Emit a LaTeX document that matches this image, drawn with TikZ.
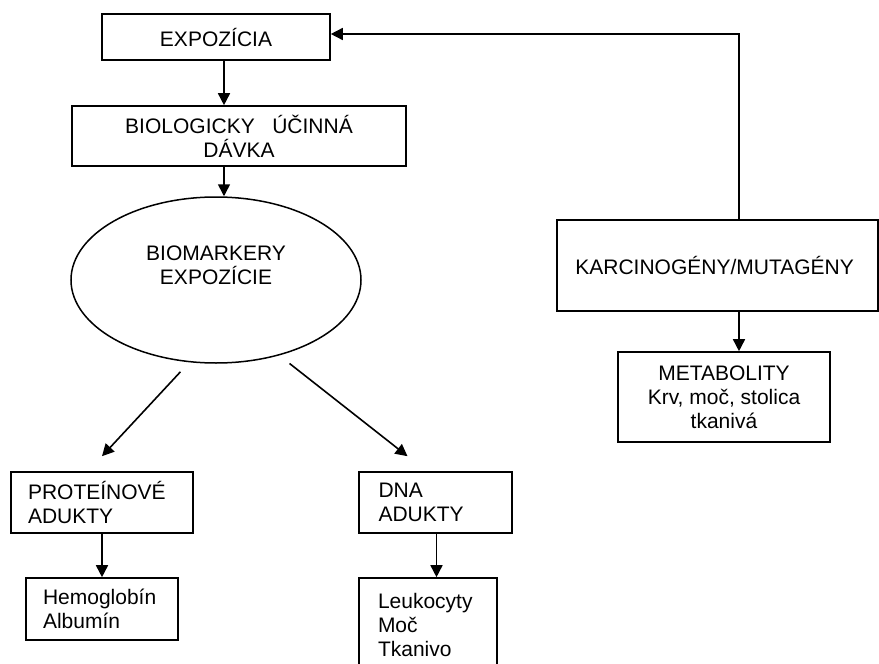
\documentclass[tikz,border=0pt]{standalone}
\usepackage{fontspec}
\setmainfont{Liberation Sans}
\usetikzlibrary{arrows.meta,shapes.geometric}

\begin{document}
\begin{tikzpicture}[
        x=0.5pt, y=-0.5pt,
        font=\fontsize{10.5}{12}\selectfont,
        box/.style={
            rectangle, draw=black, line width=0.8pt,
            inner sep=0pt, align=center
        },
        leftbox/.style={
            box, align=left, inner ysep=0pt
        },
        oval/.style={
            ellipse, draw=black, line width=0.75pt,
            minimum width=145pt, minimum height=83pt,
            inner sep=0pt, align=center
        },
        arrow/.style={-{Triangle[length=6pt,width=6pt]}, line width=0.8pt}
    ]

        \clip[use as bounding box] (0,0) rectangle (879,664);

        % Uzly
        \node[box, minimum width=114pt, minimum height=23pt] (expo) at (216,37) {EXPOZÍCIA};

        \node[box, minimum width=167pt, minimum height=30pt] (bio) at (239,136) {
            BIOLOGICKY~~~ÚČINNÁ\\
            DÁVKA
        };

        \node[oval] (bme) at (216,280) {
            BIOMARKERY\\
            EXPOZÍCIE\\[3pt]
        };

        \node[leftbox, text width=74pt, inner xsep=8.5pt, minimum height=30.5pt] (prot) at (102,502.5) {
            PROTEÍNOVÉ\\
            ADUKTY
        };

        \node[leftbox, text width=59pt, inner xsep=8.5pt, minimum height=31pt] (hemo) at (102,609) {
            Hemoglobín\\
            Albumín
        };

        \node[leftbox, text width=57pt, inner xsep=9.75pt, minimum height=30.5pt] (dna) at (435.5,502.5) {
            DNA\\
            ADUKTY
        };

        \node[leftbox, text width=50pt, inner xsep=9.5pt, minimum height=47pt] (leuk) at (428,625) {
            Leukocyty\\
            Moč\\
            Tkanivo
        };

        \node[box, minimum width=160.5pt, minimum height=45.5pt] (karc) at (717.5,265.5) {
            KARCINOGÉNY/MUTAGÉNY
        };

        \node[box, minimum width=106pt, minimum height=45pt] (metab) at (724,397) {
            METABOLITY\\
            Krv, moč, stolica\\
            tkanivá
        };

        % Šípky
        \draw[arrow] ([xshift=4pt]expo.south) -- ([xshift=4pt]expo.south |- bio.north);
        \draw[arrow] ([xshift=-7.5pt]bio.south) -- ([xshift=-7.5pt]bio.south |- bme.north);

        \coordinate (protin) at ([yshift=7.5pt]prot.north);
        \coordinate (dnain) at ([xshift=-14pt,yshift=7.5pt]dna.north);
        \draw[arrow, shorten <=6.5pt] (bme.252) -- (protin);
        \draw[arrow, shorten <=6.5pt] (bme.310) -- (dnain);

        \draw[arrow] (prot.south) -- (hemo.north);
        \draw[arrow] ([xshift=0.5pt]dna.south) -- ([xshift=0.5pt]dna.south |- leuk.north);

        % Spätná väzba
        \coordinate (karcin) at ([xshift=10.75pt]karc.north);
        \draw[arrow] (karcin) |- ([yshift=1.5pt]expo.east);
        \draw[arrow] ([xshift=10.75pt]karc.south) -- ([xshift=10.75pt]karc.south |- metab.north);

    \end{tikzpicture}
\end{document}
